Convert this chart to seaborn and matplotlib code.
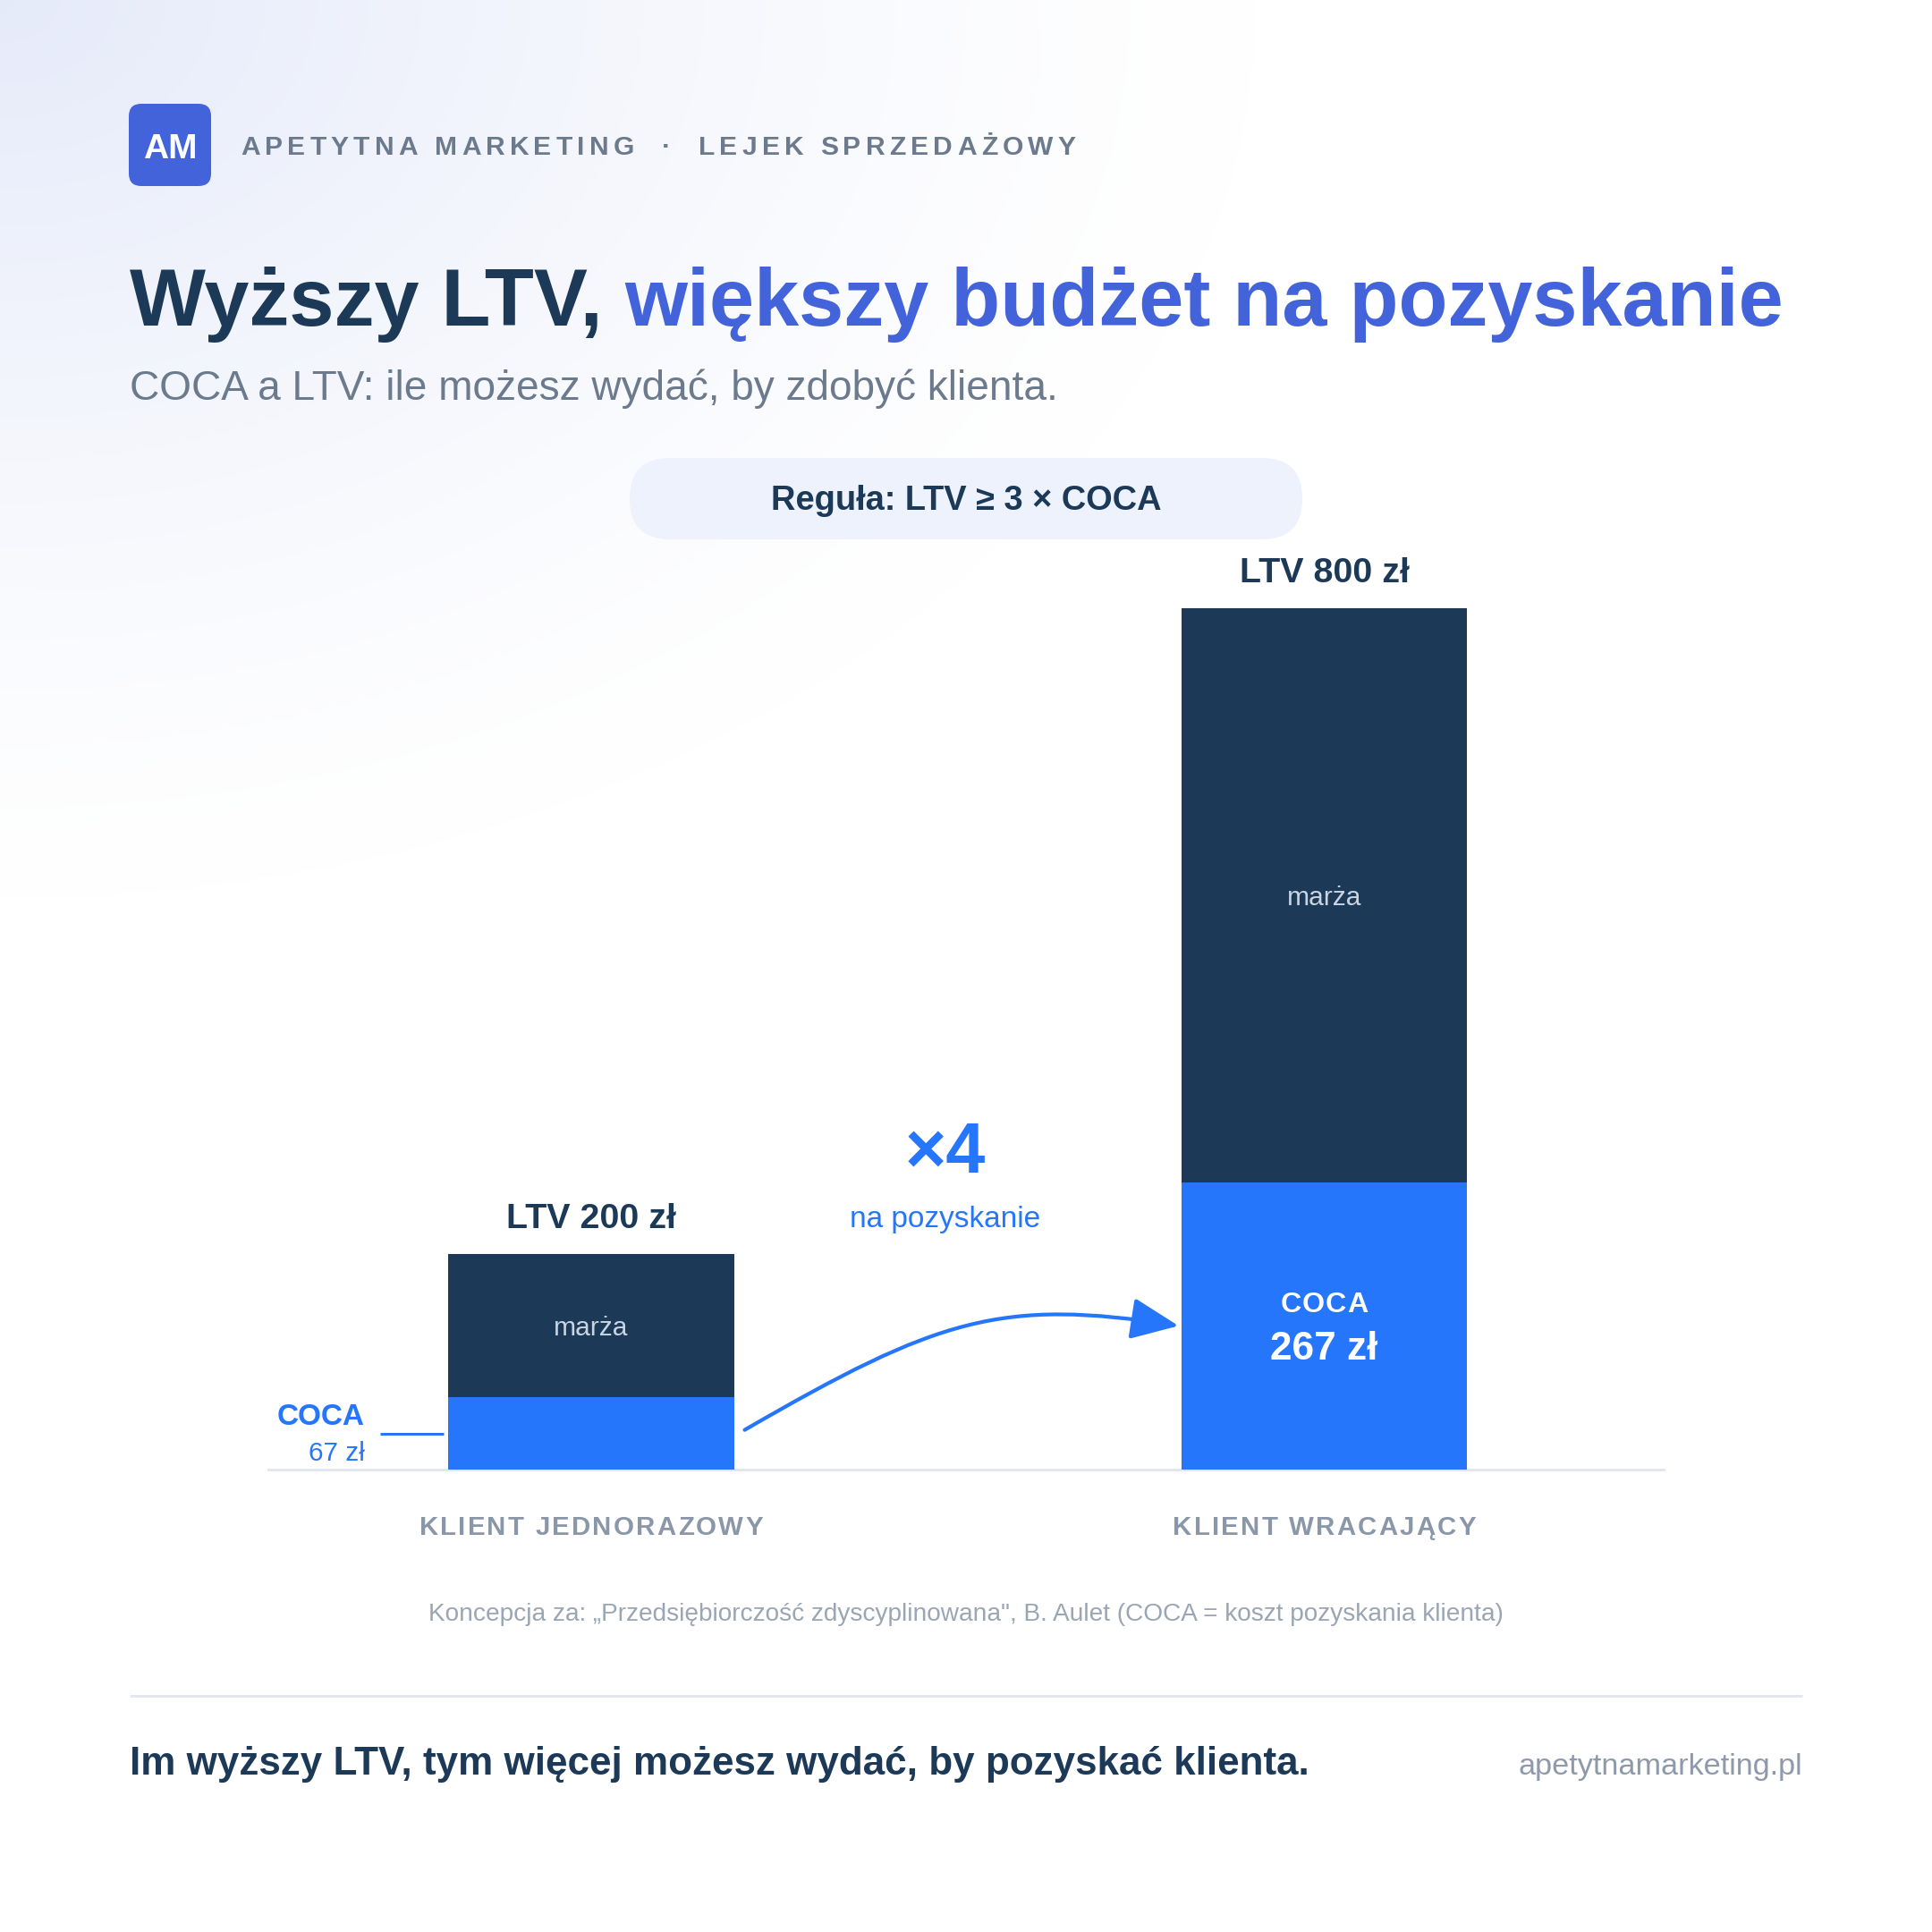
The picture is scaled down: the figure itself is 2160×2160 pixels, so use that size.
import numpy as np
import pandas as pd
import matplotlib
matplotlib.use("Agg")
import matplotlib.pyplot as plt
import seaborn as sns
from matplotlib.patches import FancyBboxPatch, FancyArrowPatch
from matplotlib.path import Path
from matplotlib.font_manager import FontProperties

# ---------------- data ----------------
categories = ["KLIENT JEDNORAZOWY", "KLIENT WRACAJĄCY"]
ltv_values = [200, 800]
coca_values = [67, 267]
ltv_labels = ["LTV 200 zł", "LTV 800 zł"]
coca_value_labels = ["67 zł", "267 zł"]
coca_name = "COCA"
margin_label = "marża"
multiplier_label = "×4"
multiplier_sub = "na pozyskanie"

title_dark = "Wyższy LTV, "
title_blue = "większy budżet na pozyskanie"
subtitle = "COCA a LTV: ile możesz wydać, by zdobyć klienta."
header_left = "APETYTNA MARKETING"
header_right = "LEJEK SPRZEDAŻOWY"
logo_text = "AM"
rule_text = "Reguła: LTV ≥ 3 × COCA"
footnote = "Koncepcja za: „Przedsiębiorczość zdyscyplinowana\", B. Aulet (COCA = koszt pozyskania klienta)"
footer_text = "Im wyższy LTV, tym więcej możesz wydać, by pozyskać klienta."
website = "apetytnamarketing.pl"

# ---------------- style ----------------
NAVY = "#1c3a57"
BLUE = "#2576fb"
ROYAL = "#4263d9"
GRAY_HDR = "#6b7a8d"
GRAY_CAT = "#8a97a8"
GRAY_NOTE = "#9ba6b4"
GRAY_WEB = "#8e9aab"
PILL = "#edf2fd"
LINE = "#e3e7ed"
MARZA_TXT = "#c9d4e2"

sns.set_theme(style="white")
FAM = ["Liberation Sans", "DejaVu Sans"]
plt.rcParams["font.family"] = FAM

W = H = 2160
DPI = 200
fig = plt.figure(figsize=(W / DPI, H / DPI), dpi=DPI)
fig.patch.set_facecolor("white")


def pt(px):
    return px * 72.0 / DPI


def fp(size, weight="normal"):
    return FontProperties(family=FAM, size=size, weight=weight)


# ---------------- background (pixel coordinates, y down) ----------------
bg = fig.add_axes([0, 0, 1, 1], zorder=-10)
yy, xx = np.mgrid[0:H:4, 0:W:4]
d = np.sqrt((xx / 1400.0) ** 2 + (yy / 1000.0) ** 2)
t = np.clip(1 - d, 0, 1) ** 1.3
tint = np.array([0.900, 0.920, 0.980])
img = 1 - t[..., None] * (1 - tint)
bg.imshow(img, extent=[0, W, H, 0], aspect="auto", interpolation="bilinear")
bg.set_xlim(0, W)
bg.set_ylim(H, 0)
bg.axis("off")

renderer = fig.canvas.get_renderer()


def ink_w(s, prop):
    w, h, dd = renderer.get_text_width_height_descent(s, prop, ismath=False)
    return w


def adv(s, prop):
    return ink_w("n" + s + "n", prop) - ink_w("nn", prop)


def spaced(x, y, s, prop, color, spacing, ha="left", on_top=False):
    advs = [adv(c, prop) for c in s]
    total = sum(advs) + spacing * (len(s) - 1)
    x0 = x if ha == "left" else (x - total / 2 if ha == "center" else x - total)
    cx = x0
    for c, a in zip(s, advs):
        if c != " ":
            if on_top:
                fig.text((cx + a / 2) / W, 1 - y / H, c, fontproperties=prop,
                         color=color, ha="center", va="baseline", zorder=10)
            else:
                bg.text(cx + a / 2, y, c, fontproperties=prop, color=color,
                        ha="center", va="baseline")
        cx += a + spacing
    return x0 + total


# logo + header
bg.add_patch(FancyBboxPatch((144, 116), 92, 92,
                            boxstyle="round,pad=0,rounding_size=14",
                            fc=ROYAL, ec="none"))
bg.text(190, 177, logo_text, fontproperties=fp(14, "bold"), color="white",
        ha="center", va="baseline")
hprop = fp(10.8, "bold")
spaced(269, 173, header_left, hprop, GRAY_HDR, 5.2)
bg.text(745, 173, "·", fontproperties=hprop, color=GRAY_HDR, ha="center", va="baseline")
spaced(781, 173, header_right, hprop, GRAY_HDR, 5.2)

# title
tprop = fp(32.4, "bold")
bg.text(145, 364, title_dark, fontproperties=tprop, color=NAVY, ha="left", va="baseline")
bg.text(145 + adv(title_dark, tprop), 364, title_blue, fontproperties=tprop,
        color=ROYAL, ha="left", va="baseline")
bg.text(145, 447, subtitle, fontproperties=fp(16.55), color=GRAY_HDR,
        ha="left", va="baseline")

# rule pill
bg.add_patch(FancyBboxPatch((704, 512), 752, 91,
                            boxstyle="round,pad=0,rounding_size=45",
                            fc=PILL, ec="none"))
bg.text(1080, 570, rule_text, fontproperties=fp(13.7, "bold"), color=NAVY,
        ha="center", va="baseline")

# multiplier
bg.text(1057, 1311, multiplier_label, fontproperties=fp(28.5, "bold"), color=BLUE,
        ha="center", va="baseline")
bg.text(1057, 1372, multiplier_sub, fontproperties=fp(12), color=BLUE,
        ha="center", va="baseline")

# footnote, separator, footer
bg.text(1080, 1812, footnote, fontproperties=fp(10.1), color=GRAY_NOTE,
        ha="center", va="baseline")
bg.plot([145, 2015], [1896, 1896], color=LINE, lw=pt(3), solid_capstyle="butt")
bg.text(145, 1984, footer_text, fontproperties=fp(15.85, "bold"), color=NAVY,
        ha="left", va="baseline")
bg.text(2015, 1984, website, fontproperties=fp(12.35), color=GRAY_WEB,
        ha="right", va="baseline")

# ---------------- main chart ----------------
AX_L, AX_R, AX_B, AX_T = 300, 1860, 1643, 600
ax = fig.add_axes([AX_L / W, 1 - AX_B / H, (AX_R - AX_L) / W, (AX_B - AX_T) / H])
ax.patch.set_alpha(0)

BAR_W = 0.39
XLIM = (-0.44, 1.463)
YLIM = (0, 866.5)
PXX = (AX_R - AX_L) / (XLIM[1] - XLIM[0])
PXY = (AX_B - AX_T) / (YLIM[1] - YLIM[0])

df = pd.DataFrame({"kategoria": categories, "LTV": ltv_values, "COCA": coca_values})
sns.barplot(data=df, x="kategoria", y="LTV", color=NAVY, width=BAR_W,
            saturation=1, errorbar=None, linewidth=0, ax=ax, zorder=2)
sns.barplot(data=df, x="kategoria", y="COCA", color=BLUE, width=BAR_W,
            saturation=1, errorbar=None, linewidth=0, ax=ax, zorder=3)
ax.set_xlim(*XLIM)
ax.set_ylim(*YLIM)
ax.set(xlabel="", ylabel="", yticks=[])
ax.tick_params(bottom=False, labelbottom=False, left=False, labelleft=False)
for s in ["top", "left", "right"]:
    ax.spines[s].set_visible(False)
ax.spines["bottom"].set_color(LINE)
ax.spines["bottom"].set_linewidth(pt(3))
ax.spines["bottom"].set_zorder(1)

for i, (ltv, coca) in enumerate(zip(ltv_values, coca_values)):
    ax.annotate(ltv_labels[i], (i, ltv), xytext=(0, pt(29)), textcoords="offset points",
                ha="center", va="baseline", fontproperties=fp(14.2, "bold"), color=NAVY)
    ax.annotate(margin_label, (i, (ltv + coca) / 2), xytext=(0, pt(-3)),
                textcoords="offset points", ha="center", va="center",
                fontproperties=fp(10.8), color=MARZA_TXT, zorder=5)

# COCA labels: outside for small bar, inside for big bar
i = 0
mid0 = coca_values[i] / 2
left_edge = i - BAR_W / 2
ax.annotate(coca_name, (left_edge, mid0), xytext=(pt(-93), pt(10)), textcoords="offset points",
            ha="right", va="baseline", fontproperties=fp(12, "bold"), color=BLUE,
            annotation_clip=False)
ax.annotate(coca_value_labels[i], (left_edge, mid0), xytext=(pt(-93), pt(-30)),
            textcoords="offset points", ha="right", va="baseline",
            fontproperties=fp(10.7), color=BLUE, annotation_clip=False)
ax.plot([left_edge - 76 / PXX, left_edge - 5 / PXX], [mid0, mid0], color=BLUE,
        lw=pt(3), solid_capstyle="butt", clip_on=False, zorder=4)

i = 1
mid1 = coca_values[i] / 2
cx_disp, cy_disp = ax.transData.transform((i, mid1))
spaced(cx_disp, H - cy_disp - 15.5, coca_name, fp(11.6, "bold"), "white", 1.2,
       ha="center", on_top=True)
ax.annotate(coca_value_labels[i], (i, mid1), xytext=(0, pt(-38)), textcoords="offset points",
            ha="center", va="baseline", fontproperties=fp(15.9, "bold"), color="white",
            zorder=5)

# curved arrow from small COCA to big COCA
x0 = 0 + BAR_W / 2 + 12 / PXX
y0 = coca_values[0] / 2 + 4 / PXY
x3 = 1 - BAR_W / 2 - 3 / PXX
y3 = coca_values[1] / 2
p1 = (x0 + 216 / PXX, y0 + 125 / PXY)
p2 = (x3 - 198 / PXX, y3 + 31 / PXY)
path = Path([(x0, y0), p1, p2, (x3, y3)],
            [Path.MOVETO, Path.CURVE4, Path.CURVE4, Path.CURVE4])
arrow = FancyArrowPatch(path=path, arrowstyle="-|>,head_length=1.65,head_width=0.72",
                        mutation_scale=10, color=BLUE, lw=pt(4.2),
                        transform=ax.transData, clip_on=False, zorder=4)
ax.add_patch(arrow)

# category labels (letter-spaced)
cprop = fp(10.6, "bold")
for i, cat in enumerate(categories):
    xd = ax.transData.transform((i, 0))[0]
    spaced(xd, 1716, cat, cprop, GRAY_CAT, 2.2, ha="center")

fig.savefig("out.png", dpi=DPI, facecolor="white")
